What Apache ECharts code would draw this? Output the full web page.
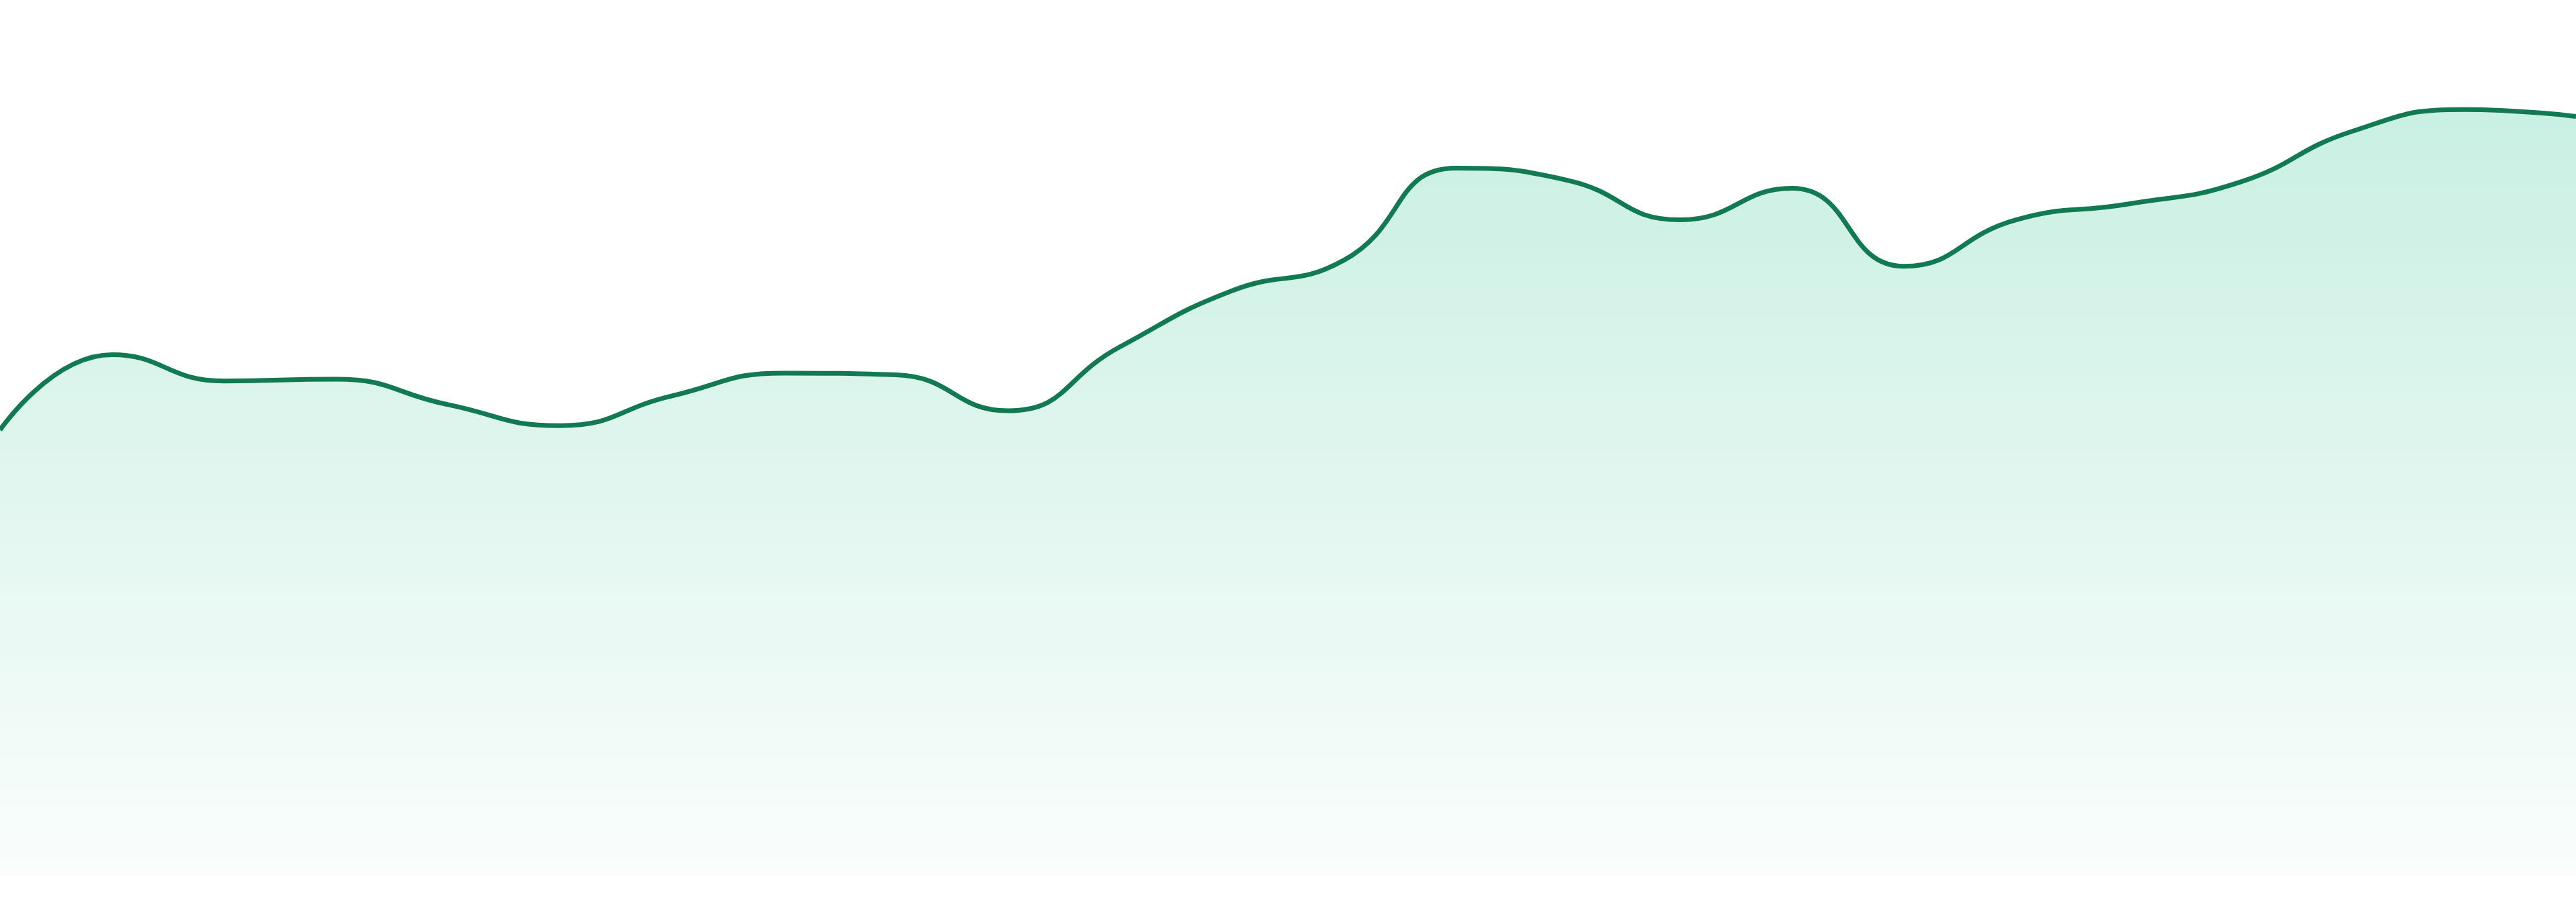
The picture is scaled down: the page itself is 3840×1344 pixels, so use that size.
<!DOCTYPE html>
<html>
<head>
<meta charset="utf-8">
<script src="https://cdn.jsdelivr.net/npm/echarts@6/dist/echarts.min.js"></script>
<style>
html,body{margin:0;padding:0;background:#ffffff;}
#chart{width:3840px;height:1344px;}
</style>
</head>
<body>
<div id="chart"></div>
<script>
const categories = ['1','2','3','4','5','6','7','8','9','10','11','12','13','14','15','16','17','18','19','20','21','22','23','24'];
const values = [50.9, 59.5, 56.5, 56.7, 53.8, 51.4, 54.8, 57.4, 57.2, 53.1, 60.4, 66.8, 70.3, 80.8, 79.4, 74.9, 78.5, 69.6, 74.9, 76.7, 79.2, 85.0, 87.5, 86.7];

const chart = echarts.init(document.getElementById('chart'));
chart.setOption({
  animation: false,
  backgroundColor: '#ffffff',
  grid: { left: 0, right: 0, top: 0, bottom: 39, containLabel: false },
  xAxis: {
    type: 'category',
    data: categories,
    boundaryGap: false,
    show: false
  },
  yAxis: {
    type: 'value',
    min: 0,
    max: 100,
    show: false
  },
  series: [{
    type: 'line',
    data: values,
    smooth: true,
    symbol: 'none',
    lineStyle: { color: '#127a52', width: 7 },
    areaStyle: {
      color: new echarts.graphic.LinearGradient(0, 0, 0, 1, [
        { offset: 0, color: 'rgba(16,185,129,0.32)' },
        { offset: 1, color: 'rgba(16,185,129,0.03)' }
      ])
    }
  }]
});
</script>
</body>
</html>
